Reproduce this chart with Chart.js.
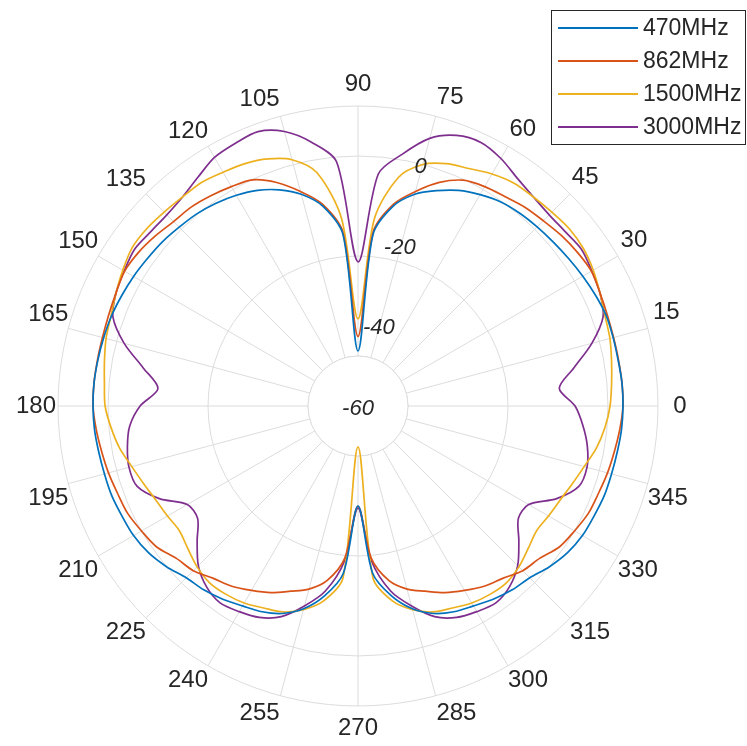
<!DOCTYPE html>
<html>
<head>
<meta charset="utf-8">
<title>Polar pattern</title>
<script src="https://cdn.jsdelivr.net/npm/chart.js@4.4.1/dist/chart.umd.min.js"></script>
<style>
  html, body { margin: 0; padding: 0; background: #fff; }
</style>
</head>
<body>
<canvas id="polarChart" width="747" height="746"></canvas>
<script>
// angle in degrees, counter-clockwise from the right (0 = east)
const angleDeg = [
  0, 5, 10, 15, 20, 25, 30, 35, 40, 45, 50, 55, 60, 65, 70, 75, 80, 85,
  90, 95, 100, 105, 110, 115, 120, 125, 130, 135, 140, 145, 150, 155, 160, 165, 170, 175,
  180, 185, 190, 195, 200, 205, 210, 215, 220, 225, 230, 235, 240, 245, 250, 255, 260, 265,
  270, 275, 280, 285, 290, 295, 300, 305, 310, 315, 320, 325, 330, 335, 340, 345, 350, 355
];

// gain in dB, one value per angle above
const gain470 = [
  3.6, 3.6, 3.4, 3.4, 3.4, 2.9, 2.3, 1.7, 1.2, 0.8, 0.4, -0.2, -1.4, -2.9, -5.0, -7.4, -11.3, -18.7,
  -46.8, -18.7, -11.3, -7.4, -4.8, -2.9, -1.6, -0.6, 0.2, 0.7, 1.3, 1.7, 2.2, 2.6, 3.0, 3.2, 3.4, 3.6,
  3.6, 3.5, 3.2, 3.0, 2.9, 2.5, 2.2, 1.4, 0.0, -1.7, -2.4, -3.4, -4.6, -5.5, -7.0, -9.6, -13.7, -19.7,
  -36.0, -19.7, -13.7, -9.6, -7.0, -5.5, -4.6, -3.4, -2.4, -1.7, 0.0, 1.4, 2.2, 2.5, 2.9, 3.0, 3.2, 3.5
];
const gain862 = [
  3.6, 3.6, 3.5, 3.5, 3.7, 4.1, 4.7, 4.3, 3.7, 2.9, 2.3, 1.4, 0.8, -0.2, -2.9, -6.7, -10.8, -18.0,
  -43.3, -18.0, -10.8, -6.7, -2.9, -0.1, 0.8, 1.6, 2.3, 2.6, 3.5, 4.3, 4.7, 4.1, 3.7, 3.5, 3.5, 3.6,
  3.6, 3.1, 2.5, 2.0, 1.4, 1.0, 0.0, -1.0, -3.1, -4.1, -6.0, -7.2, -8.9, -10.6, -12.7, -14.5, -17.5, -23.3,
  -35.9, -23.3, -17.5, -14.5, -12.7, -10.6, -8.9, -7.2, -6.0, -4.1, -3.1, -1.0, 0.0, 1.0, 1.4, 2.0, 2.5, 3.1
];
const gain1500 = [
  0.5, 1.1, 1.8, 2.6, 3.1, 4.1, 5.2, 6.0, 6.2, 5.8, 5.5, 5.3, 4.3, 2.9, 1.9, 0.0, -4.3, -14.9,
  -39.1, -14.9, -3.1, 1.2, 3.1, 4.2, 4.8, 5.5, 5.5, 5.8, 6.2, 6.2, 5.2, 4.1, 3.1, 2.6, 1.8, 1.1,
  0.7, -0.5, -1.9, -3.8, -5.3, -6.5, -7.2, -7.7, -6.7, -5.4, -4.6, -4.8, -5.4, -6.5, -7.4, -9.4, -12.5, -18.5,
  -50.2, -18.5, -12.5, -9.4, -7.4, -6.5, -5.4, -4.8, -4.6, -5.4, -6.7, -7.7, -7.2, -6.5, -5.3, -3.8, -1.9, -0.5
];
const gain3000 = [
  -7.9, -11.5, -7.4, -1.9, 2.6, 4.1, 4.8, 5.5, 5.0, 4.9, 5.5, 6.7, 8.6, 9.8, 9.1, 6.5, 1.4, -4.1,
  -25.4, -1.2, 4.3, 8.2, 10.1, 9.6, 8.9, 7.0, 5.5, 4.9, 5.0, 5.5, 4.8, 4.1, 2.6, -1.9, -7.7, -11.8,
  -7.7, -5.0, -3.8, -3.1, -3.6, -7.4, -12.7, -13.0, -9.6, -5.8, -3.4, -2.3, -3.0, -4.0, -6.2, -10.3, -14.9, -22.6,
  -35.5, -22.6, -14.9, -10.3, -6.2, -4.0, -3.0, -2.3, -3.4, -5.8, -9.6, -13.0, -12.7, -7.4, -3.6, -3.1, -4.1, -5.8
];

const seriesNames = ['470MHz', '862MHz', '1500MHz', '3000MHz'];
const seriesColors = ['#0072BD', '#D95319', '#EDB120', '#7E2F8E'];

const angleTicks = [0, 15, 30, 45, 60, 75, 90, 105, 120, 135, 150, 165, 180,
                    195, 210, 225, 240, 255, 270, 285, 300, 315, 330, 345];
const rTickLabels = [-60, -40, -20, 0];
const gridRings = [-60, -48, -24, 0, 12];   // circles drawn on the plot
const rMin = -60, rMax = 12;

const GRID = '#dcdcdc';
const TEXT = '#262626';
const FONT = '"Liberation Sans", Arial, sans-serif';
const LABEL_SIZE = 24;

// radar runs clockwise from the top, this plot runs counter-clockwise from the right
const step = angleDeg[1] - angleDeg[0];
const order = angleDeg.map((_, i) => angleDeg.indexOf((450 - i * step) % 360));
const labels = order.map(k => angleDeg[k]);
const gains = [gain470, gain862, gain1500, gain3000];

const decor = {
  id: 'decor',
  beforeDatasetsDraw(chart) {
    const s = chart.scales.r, ctx = chart.ctx;
    const r0 = s.getDistanceFromCenterForValue(gridRings[1]);
    ctx.save();
    ctx.fillStyle = '#fff';
    ctx.beginPath();
    ctx.arc(s.xCenter, s.yCenter, r0, 0, Math.PI * 2);
    ctx.fill();
    ctx.strokeStyle = GRID;
    ctx.lineWidth = 1;
    ctx.stroke();
    ctx.restore();
  },
  afterDatasetsDraw(chart) {
    const s = chart.scales.r, ctx = chart.ctx;
    const a = 75.5 * Math.PI / 180;
    ctx.save();
    ctx.font = 'italic 22px ' + FONT;
    ctx.fillStyle = TEXT;
    ctx.textAlign = 'center';
    ctx.textBaseline = 'middle';
    rTickLabels.forEach(v => {
      const d = s.getDistanceFromCenterForValue(v);
      ctx.fillText(String(v), s.xCenter + d * Math.cos(a), s.yCenter - d * Math.sin(a) + 3);
    });
    ctx.restore();
  },
  afterDraw(chart) {
    // legend box, top right
    const ctx = chart.ctx;
    ctx.save();
    ctx.fillStyle = '#fff';
    ctx.fillRect(551.5, 10.5, 194, 134);
    ctx.strokeStyle = TEXT;
    ctx.lineWidth = 1;
    ctx.strokeRect(551.5, 10.5, 194, 134);
    ctx.font = '23px ' + FONT;
    ctx.textAlign = 'left';
    ctx.textBaseline = 'middle';
    chart.data.datasets.forEach((ds, i) => {
      const y = 28 + i * 33;
      ctx.strokeStyle = ds.borderColor;
      ctx.lineWidth = 2;
      ctx.beginPath();
      ctx.moveTo(558, y);
      ctx.lineTo(638, y);
      ctx.stroke();
      ctx.fillStyle = TEXT;
      ctx.fillText(ds.label, 643, y + 1);
    });
    ctx.restore();
  }
};

new Chart(document.getElementById('polarChart'), {
  type: 'radar',
  data: {
    labels: labels,
    datasets: gains.map((g, i) => ({
      label: seriesNames[i],
      data: order.map(k => g[k]),
      borderColor: seriesColors[i],
      backgroundColor: seriesColors[i],
      borderWidth: 1.7,
      fill: false,
      pointRadius: 0,
      tension: 0.3
    }))
  },
  options: {
    responsive: false,
    animation: false,
    layout: { padding: { left: 10, top: 66, right: 53, bottom: -4 } },
    plugins: {
      legend: { display: false },
      tooltip: { enabled: false }
    },
    scales: {
      r: {
        min: rMin,
        max: rMax,
        afterBuildTicks: (scale) => {
          scale.ticks = gridRings.map(v => ({ value: v }));
        },
        ticks: { display: false },
        grid: { circular: true, color: GRID, lineWidth: 1 },
        angleLines: {
          color: (ctx) => angleTicks.includes(labels[ctx.index]) ? GRID : 'rgba(0,0,0,0)',
          lineWidth: 1
        },
        pointLabels: {
          font: { family: FONT, size: LABEL_SIZE },
          color: TEXT,
          callback: (v) => angleTicks.includes(v) ? String(v) : '',
          padding: (ctx) => {
            // keep the label centres on one circle, as in the reference
            const th = labels[ctx.index] * Math.PI / 180;
            const w = String(labels[ctx.index]).length * 0.556 * LABEL_SIZE;
            const h = LABEL_SIZE * 1.2;
            const half = Math.abs(Math.cos(th)) * w / 2 + Math.abs(Math.sin(th)) * h / 2;
            return Math.max(0, 22 - half);
          }
        }
      }
    }
  },
  plugins: [decor]
});
</script>
</body>
</html>
